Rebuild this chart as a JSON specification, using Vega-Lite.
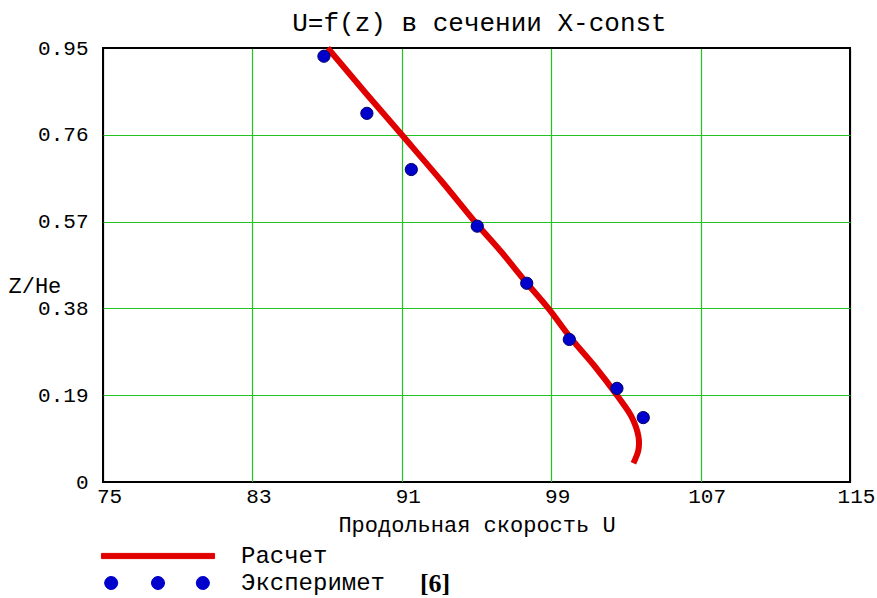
{
  "$schema": "https://vega.github.io/schema/vega-lite/v6.json",
  "width": 747,
  "height": 434,
  "autosize": {"type": "none"},
  "padding": {"left": 103, "top": 48, "right": 27, "bottom": 116},
  "background": "#ffffff",
  "config": {"view": {"stroke": "#000000", "strokeWidth": 2}, "font": "Liberation Mono"},
  "title": {"text": "U=f(z) в сечении X-const", "font": "Liberation Mono", "fontSize": 26, "fontWeight": "normal", "color": "#000000", "anchor": "middle", "offset": -20, "baseline": "alphabetic", "dx": 3},
  "datasets": {
    "calc": [
      {"u": 87.03, "z": 0.95},
      {"u": 89.1, "z": 0.85},
      {"u": 91.0, "z": 0.76},
      {"u": 93.1, "z": 0.66},
      {"u": 95.05, "z": 0.563},
      {"u": 96.3, "z": 0.505},
      {"u": 97.6, "z": 0.44},
      {"u": 98.85, "z": 0.38},
      {"u": 100.05, "z": 0.315},
      {"u": 101.3, "z": 0.255},
      {"u": 102.57, "z": 0.187},
      {"u": 103.3, "z": 0.143},
      {"u": 103.67, "z": 0.1},
      {"u": 103.67, "z": 0.07},
      {"u": 103.4, "z": 0.041}
    ],
    "exp": [
      {"u": 86.83, "z": 0.932},
      {"u": 89.13, "z": 0.807},
      {"u": 91.51, "z": 0.684},
      {"u": 95.04, "z": 0.56},
      {"u": 97.69, "z": 0.435},
      {"u": 99.97, "z": 0.312},
      {"u": 102.52, "z": 0.205},
      {"u": 103.93, "z": 0.141}
    ],
    "ref": [
      {"u": 91.97, "z": -0.241, "label": "[6]"}
    ]
  },
  "encoding": {
    "x": {
      "field": "u", "type": "quantitative",
      "scale": {"domain": [75, 115], "nice": false, "zero": false},
      "axis": {
        "values": [75, 83, 91, 99, 107, 115],
        "grid": true,
        "gridColor": {"condition": {"test": "datum.value == 75 || datum.value == 115", "value": "#000000"}, "value": "#22c422"},
        "gridWidth": 1.2,
        "ticks": false, "domain": false,
        "labelFont": "Liberation Mono", "labelFontSize": 21, "labelColor": "#000000",
        "labelPadding": 3, "labelOffset": 6, "labelFlush": false, "labelOverlap": false,
        "title": "Продольная скорость U",
        "titleFont": "Liberation Mono", "titleFontSize": 22, "titleFontWeight": "normal", "titleColor": "#000000",
        "titleY": 49, "titleBaseline": "alphabetic"
      }
    },
    "y": {
      "field": "z", "type": "quantitative",
      "scale": {"domain": [0, 0.95], "nice": false, "zero": false},
      "axis": {
        "values": [0, 0.19, 0.38, 0.57, 0.76, 0.95],
        "format": ".2~f",
        "grid": true,
        "gridColor": {"condition": {"test": "datum.value == 0 || datum.value == 0.95", "value": "#000000"}, "value": "#22c422"},
        "gridWidth": 1.2,
        "ticks": false, "domain": false,
        "labelFont": "Liberation Mono", "labelFontSize": 21, "labelColor": "#000000",
        "labelPadding": 15, "labelFlush": false, "labelOverlap": false, "labelBaseline": "middle",
        "title": "Z/He",
        "titleFont": "Liberation Mono", "titleFontSize": 22, "titleFontWeight": "normal", "titleColor": "#000000",
        "titleAngle": 0, "titleAlign": "left", "titleBaseline": "middle",
        "titleX": -95, "titleY": 237
      }
    }
  },
  "layer": [
    {
      "data": {"name": "calc"},
      "mark": {"type": "line", "interpolate": "catmull-rom", "strokeWidth": 6, "strokeCap": "butt", "strokeJoin": "round"},
      "encoding": {
        "order": {"field": "z", "sort": "descending"},
        "color": {
          "datum": "Расчет",
          "scale": {"domain": ["Расчет", "Эксперимет"], "range": ["#e00000", "#0000cc"]},
          "legend": {
            "orient": "none", "legendX": 43, "legendY": 496,
            "title": null, "padding": 0,
            "symbolSize": 169, "symbolStrokeWidth": 1,
            "labelOffset": 71, "labelFont": "Liberation Mono", "labelFontSize": 24, "labelColor": "#000000",
            "rowPadding": 3,
            "encoding": {
              "symbols": {
                "shape": {"condition": {"test": "datum.index == 0", "value": "M-8.7,-0.4H8.7V0.4H-8.7Z"}, "value": "M-8.7,0M-8.2,0A1,1,0,1,0,-6.2,0A1,1,0,1,0,-8.2,0ZM-1,0A1,1,0,1,0,1,0A1,1,0,1,0,-1,0ZM5.9,0A1,1,0,1,0,7.9,0A1,1,0,1,0,5.9,0Z"},
                "fill": {"condition": {"test": "datum.index == 0", "value": "#e00000"}, "value": "#0000cc"},
                "stroke": {"condition": {"test": "datum.index == 0", "value": "#e00000"}, "value": "#00006a"},
                "strokeWidth": {"value": 1},
                "opacity": {"value": 1},
                "fillOpacity": {"value": 1},
                "size": {"value": 169}
              }
            }
          }
        }
      }
    },
    {
      "data": {"name": "exp"},
      "mark": {"type": "point", "filled": true, "size": 150, "stroke": "#00006a", "strokeWidth": 1, "opacity": 1},
      "encoding": {
        "color": {"datum": "Эксперимет"}
      }
    },
    {
      "data": {"name": "ref"},
      "mark": {"type": "text", "align": "left", "baseline": "alphabetic", "font": "Liberation Serif", "fontWeight": "bold", "fontSize": 26, "color": "#000000"},
      "encoding": {
        "text": {"field": "label"}
      }
    }
  ]
}
